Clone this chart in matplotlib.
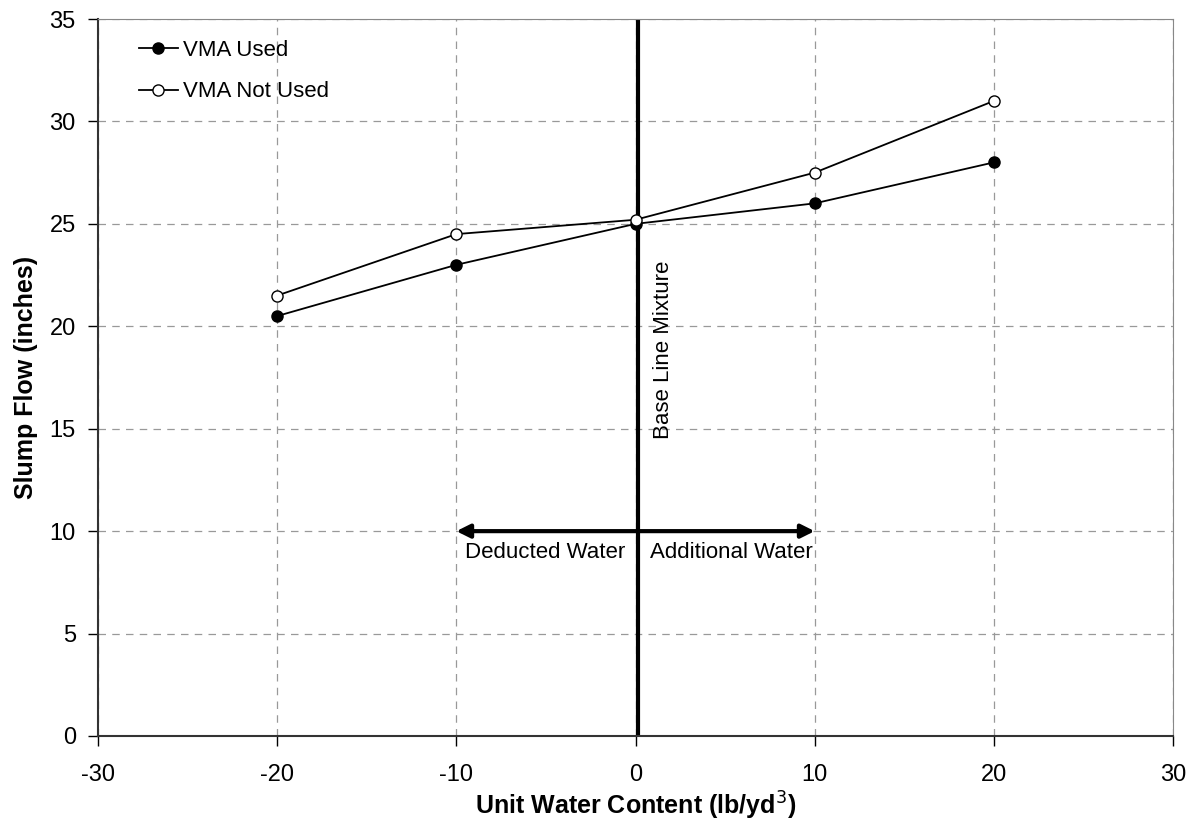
import matplotlib
matplotlib.use("Agg")
import matplotlib.pyplot as plt

plt.rcParams['font.family'] = ['Liberation Sans', 'DejaVu Sans']
plt.rcParams['axes.unicode_minus'] = False

water = [-20, -10, 0, 10, 20]
vma_used = [20.5, 23.0, 25.0, 26.0, 28.0]
vma_not_used = [21.5, 24.5, 25.2, 27.5, 31.0]
x_ticks = [-30, -20, -10, 0, 10, 20, 30]
y_ticks = [0, 5, 10, 15, 20, 25, 30, 35]

fig = plt.figure(figsize=(11.97, 8.34), dpi=100)
ax = fig.add_axes([98/1197, 1-736/834, 1075/1197, 717/834])

ax.set_xlim(-30, 30)
ax.set_ylim(0, 35)
ax.set_xticks(x_ticks)
ax.set_yticks(y_ticks)
ax.grid(True, color='#999999', linestyle=(0, (6, 5)), linewidth=0.9)
ax.set_axisbelow(True)

# base line
ax.plot([0.12, 0.12], [0, 35], color='black', linewidth=3, zorder=2)

ax.plot(water, vma_used, color='black', linewidth=1.3, marker='o', markersize=8,
        markerfacecolor='black', markeredgecolor='black', label='VMA Used', zorder=4)
ax.plot(water, vma_not_used, color='black', linewidth=1.3, marker='o', markersize=8,
        markerfacecolor='white', markeredgecolor='black', label='VMA Not Used', zorder=4)

ax.annotate('', xy=(-10, 10), xytext=(10, 10),
            arrowprops=dict(arrowstyle='<|-|>', color='black', lw=3, mutation_scale=20,
                            shrinkA=0, shrinkB=0))
ax.text(-9.5, 8.98, 'Deducted Water', fontsize=16, ha='left', va='center')
ax.text(9.9, 8.98, 'Additional Water', fontsize=16, ha='right', va='center')
ax.text(0.95, 18.85, 'Base Line Mixture', fontsize=16, rotation=90, ha='left', va='center')

ax.set_xlabel('Unit Water Content (lb/yd$^3$)', fontsize=18, fontweight='bold', labelpad=3)
ax.set_ylabel('Slump Flow (inches)', fontsize=18, fontweight='bold', labelpad=8)
ax.tick_params(axis='both', labelsize=17, direction='out', length=7, width=1)
ax.tick_params(axis='x', pad=13)
ax.tick_params(axis='y', pad=9)

for s in ['top', 'right']:
    ax.spines[s].set_color('#888888')
for s in ['left', 'bottom']:
    ax.spines[s].set_color('#333333')
    ax.spines[s].set_linewidth(1.5)

ax.legend(loc='upper left', frameon=False, fontsize=16, handlelength=1.75,
          handletextpad=0.25, labelspacing=0.93, borderpad=0, borderaxespad=0,
          bbox_to_anchor=(0.038, 0.971))

fig.savefig('out.png', dpi=100)
